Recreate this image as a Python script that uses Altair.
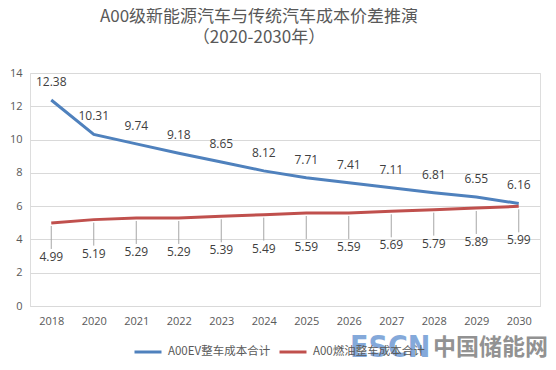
import altair as alt
import pandas as pd

years = ["2018", "2020", "2021", "2022", "2023", "2024", "2025", "2026", "2027", "2028", "2029", "2030"]
ev_cost = [12.38, 10.31, 9.74, 9.18, 8.65, 8.12, 7.71, 7.41, 7.11, 6.81, 6.55, 6.16]
ice_cost = [4.99, 5.19, 5.29, 5.29, 5.39, 5.49, 5.59, 5.59, 5.69, 5.79, 5.89, 5.99]
series_names = ["A00EV整车成本合计", "A00燃油整车成本合计"]
series_colors = ["#4F81BD", "#C0504D"]
y_ticks = [0, 2, 4, 6, 8, 10, 12, 14]
title_lines = ["A00级新能源汽车与传统汽车成本价差推演", "（2020-2030年）"]

rows = []
for y, v in zip(years, ev_cost):
    rows.append({"year": y, "series": series_names[0], "value": v})
for y, v in zip(years, ice_cost):
    rows.append({"year": y, "series": series_names[1], "value": v})
df = pd.DataFrame(rows)

FONT = "Open Sans, Noto Sans CJK SC, sans-serif"
CJK = "Noto Sans CJK SC, Open Sans, sans-serif"

x = alt.X("year:O", sort=years, scale=alt.Scale(type="point", padding=0.5),
          axis=alt.Axis(title=None, labelAngle=0, ticks=False, domainColor="#d9d9d9",
                        labelPadding=9, labelFontSize=11, labelColor="#595959", labelFont=FONT))
y = alt.Y("value:Q", scale=alt.Scale(domain=[0, 14], nice=False),
          axis=alt.Axis(title=None, values=y_ticks, ticks=False, domain=False, gridColor="#d9d9d9",
                        labelPadding=8, labelFontSize=11, labelColor="#595959", labelFont=FONT))

base = alt.Chart(df)

lines = base.mark_line(strokeWidth=3).encode(
    x=x, y=y,
    color=alt.Color("series:N", scale=alt.Scale(domain=series_names, range=series_colors),
                    legend=alt.Legend(title=None, orient="none", legendX=103, legendY=264,
                                      direction="horizontal", symbolType="stroke",
                                      symbolSize=729, symbolStrokeWidth=3, labelFontSize=11.5,
                                      labelColor="#595959", labelFont=CJK, labelOffset=5,
                                      columnPadding=2)),
)

ev_labels = base.transform_filter(alt.datum.series == series_names[0]).mark_text(
    dy=-18, fontSize=12, color="#404040", font=FONT
).encode(x=x, y=y, text=alt.Text("value:Q", format=".2f"))

leaders = base.transform_filter(alt.datum.series == series_names[1]).mark_rule(
    color="#a6a6a6", strokeWidth=1, yOffset=3, y2Offset=26
).encode(x=x, y=y, y2=alt.Y2("value:Q"))

ice_labels = base.transform_filter(alt.datum.series == series_names[1]).mark_text(
    dy=34, fontSize=12, color="#404040", font=FONT
).encode(x=x, y=y, text=alt.Text("value:Q", format=".2f"))

wm1 = alt.Chart(pd.DataFrame({"t": ["ESCN"]})).mark_text(
    align="left", baseline="middle", fontSize=30, fontWeight="bold", color="#6f9bd4",
    opacity=0.85, font="Liberation Sans Narrow, DejaVu Sans Condensed, sans-serif"
).encode(x=alt.value(320), y=alt.value(275), text="t:N")

wm2 = alt.Chart(pd.DataFrame({"t": ["中国储能网"]})).mark_text(
    align="left", baseline="middle", fontSize=23, fontWeight="bold", color="#808080",
    opacity=0.85, font=CJK
).encode(x=alt.value(403), y=alt.value(275), text="t:N")

chart = alt.layer(lines, ev_labels, leaders, ice_labels, wm1, wm2).properties(
    width=510, height=233,
    autosize=alt.AutoSizeParams(type="none"),
    padding={"left": 22, "top": 65, "right": 8, "bottom": 56},
    title=alt.TitleParams(text=title_lines, fontSize=17, color="#595959", font=CJK,
                          fontWeight="normal", anchor="middle", frame="group", dx=-26,
                          offset=20, lineHeight=21),
).configure_view(stroke=None).configure(background="white")

chart.save("out.html", embed_options={"renderer": "svg", "actions": False})
